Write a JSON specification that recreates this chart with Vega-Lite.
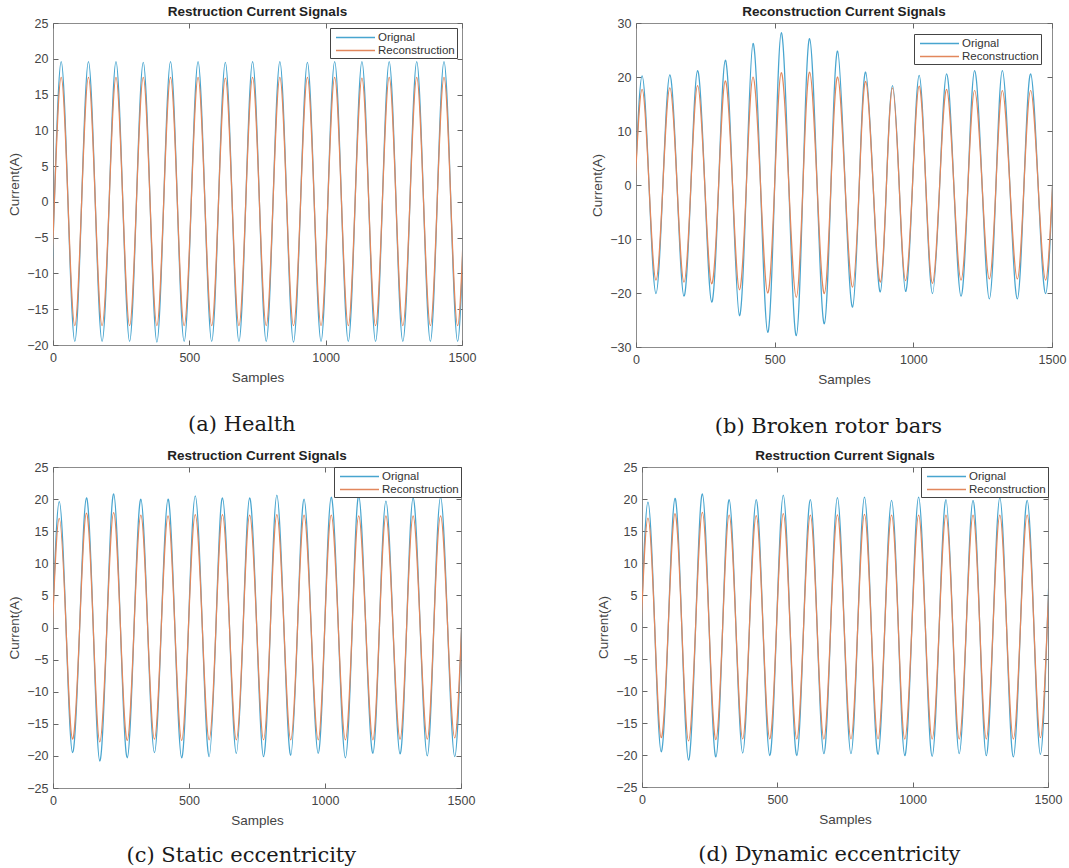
{
  "$schema": "https://vega.github.io/schema/vega-lite/v6.json",
  "background": "white",
  "padding": {"left": 7, "top": 4, "right": 2, "bottom": 2},
  "config": {
    "view": {"stroke": "#8c8c8c", "strokeWidth": 1},
    "axis": {"grid": false, "domain": false, "tickColor": "#666", "tickSize": -5, "tickWidth": 1, "labelFont": "Liberation Sans", "labelFontSize": 12.5, "labelColor": "#444", "labelPadding": 11, "labelFlush": false, "labelOverlap": false, "labelBound": false, "format": "d", "titleFont": "Liberation Sans", "titleFontSize": 13.5, "titleFontWeight": "normal", "titleColor": "#444", "titlePadding": 7},
    "axisY": {"labelPadding": 10, "titlePadding": 5},
    "legend": {"orient": "top-right", "offset": 5, "title": null, "strokeColor": "#444", "fillColor": "white", "padding": 2, "symbolType": "M-3,0H3", "symbolSize": 169, "symbolOffset": 16, "symbolStrokeWidth": 1.3, "labelFont": "Liberation Sans", "labelFontSize": 11.5, "labelColor": "#333", "rowPadding": 0, "labelOffset": 15, "cornerRadius": 0}
  },
  "resolve": {"scale": {"color": "independent"}, "legend": {"color": "independent"}},
  "datasets": {
    "a": [
      {"x":-45,"Orignal":0,"Reconstruction":0},{"x":-20,"Orignal":-19.5,"Reconstruction":-17.3},{"x":5,"Orignal":0,"Reconstruction":0},
      {"x":30,"Orignal":19.6,"Reconstruction":17.4},{"x":55,"Orignal":0,"Reconstruction":0},{"x":80,"Orignal":-19.5,"Reconstruction":-17.3},{"x":105,"Orignal":0,"Reconstruction":0},
      {"x":130,"Orignal":19.6,"Reconstruction":17.4},{"x":155,"Orignal":0,"Reconstruction":0},{"x":180,"Orignal":-19.5,"Reconstruction":-17.3},{"x":206,"Orignal":0,"Reconstruction":0},
      {"x":231,"Orignal":19.6,"Reconstruction":17.4},{"x":256,"Orignal":0,"Reconstruction":0},{"x":281,"Orignal":-19.5,"Reconstruction":-17.3},{"x":306,"Orignal":0,"Reconstruction":0},
      {"x":331,"Orignal":19.5,"Reconstruction":17.4},{"x":356,"Orignal":0,"Reconstruction":0},{"x":381,"Orignal":-19.6,"Reconstruction":-17.3},{"x":406,"Orignal":0,"Reconstruction":0},
      {"x":431,"Orignal":19.6,"Reconstruction":17.4},{"x":456,"Orignal":0,"Reconstruction":0},{"x":481,"Orignal":-19.5,"Reconstruction":-17.3},{"x":507,"Orignal":0,"Reconstruction":0},
      {"x":532,"Orignal":19.6,"Reconstruction":17.4},{"x":557,"Orignal":0,"Reconstruction":0},{"x":582,"Orignal":-19.5,"Reconstruction":-17.3},{"x":607,"Orignal":0,"Reconstruction":0},
      {"x":632,"Orignal":19.5,"Reconstruction":17.3},{"x":657,"Orignal":0,"Reconstruction":0},{"x":682,"Orignal":-19.5,"Reconstruction":-17.3},{"x":707,"Orignal":0,"Reconstruction":0},
      {"x":732,"Orignal":19.6,"Reconstruction":17.4},{"x":757,"Orignal":0,"Reconstruction":0},{"x":782,"Orignal":-19.5,"Reconstruction":-17.3},{"x":807,"Orignal":0,"Reconstruction":0},
      {"x":832,"Orignal":19.6,"Reconstruction":17.4},{"x":857,"Orignal":0,"Reconstruction":0},{"x":882,"Orignal":-19.6,"Reconstruction":-17.3},{"x":908,"Orignal":0,"Reconstruction":0},
      {"x":933,"Orignal":19.5,"Reconstruction":17.4},{"x":958,"Orignal":0,"Reconstruction":0},{"x":983,"Orignal":-19.5,"Reconstruction":-17.3},{"x":1008,"Orignal":0,"Reconstruction":0},
      {"x":1033,"Orignal":19.6,"Reconstruction":17.4},{"x":1058,"Orignal":0,"Reconstruction":0},{"x":1083,"Orignal":-19.5,"Reconstruction":-17.3},{"x":1108,"Orignal":0,"Reconstruction":0},
      {"x":1133,"Orignal":19.6,"Reconstruction":17.3},{"x":1158,"Orignal":0,"Reconstruction":0},{"x":1183,"Orignal":-19.5,"Reconstruction":-17.3},{"x":1208,"Orignal":0,"Reconstruction":0},
      {"x":1233,"Orignal":19.6,"Reconstruction":17.4},{"x":1258,"Orignal":0,"Reconstruction":0},{"x":1283,"Orignal":-19.5,"Reconstruction":-17.3},{"x":1309,"Orignal":0,"Reconstruction":0},
      {"x":1334,"Orignal":19.6,"Reconstruction":17.4},{"x":1359,"Orignal":0,"Reconstruction":0},{"x":1384,"Orignal":-19.5,"Reconstruction":-17.3},{"x":1409,"Orignal":0,"Reconstruction":0},
      {"x":1434,"Orignal":19.6,"Reconstruction":17.4},{"x":1459,"Orignal":0,"Reconstruction":0},{"x":1484,"Orignal":-19.5,"Reconstruction":-17.3},{"x":1509,"Orignal":0,"Reconstruction":0}
    ],
    "b": [
      {"x":-53,"Orignal":0,"Reconstruction":0},{"x":-28,"Orignal":-20.0,"Reconstruction":-17.5},{"x":-3,"Orignal":0,"Reconstruction":0},
      {"x":22,"Orignal":20.2,"Reconstruction":17.7},{"x":47,"Orignal":0,"Reconstruction":0},{"x":72,"Orignal":-20.1,"Reconstruction":-17.6},{"x":97,"Orignal":0,"Reconstruction":0},
      {"x":122,"Orignal":20.4,"Reconstruction":18.0},{"x":148,"Orignal":0,"Reconstruction":0},{"x":173,"Orignal":-20.6,"Reconstruction":-18.0},{"x":198,"Orignal":0,"Reconstruction":0},
      {"x":222,"Orignal":21.2,"Reconstruction":18.4},{"x":248,"Orignal":0,"Reconstruction":0},{"x":273,"Orignal":-21.7,"Reconstruction":-18.3},{"x":298,"Orignal":0,"Reconstruction":0},
      {"x":322,"Orignal":23.1,"Reconstruction":19.3},{"x":348,"Orignal":0,"Reconstruction":0},{"x":373,"Orignal":-24.2,"Reconstruction":-19.4},{"x":398,"Orignal":0,"Reconstruction":0},
      {"x":422,"Orignal":26.2,"Reconstruction":20.0},{"x":449,"Orignal":0,"Reconstruction":0},{"x":475,"Orignal":-27.3,"Reconstruction":-20.0},{"x":500,"Orignal":0,"Reconstruction":0},
      {"x":524,"Orignal":28.2,"Reconstruction":20.8},{"x":551,"Orignal":0,"Reconstruction":0},{"x":578,"Orignal":-27.9,"Reconstruction":-20.8},{"x":602,"Orignal":0,"Reconstruction":0},
      {"x":626,"Orignal":27.1,"Reconstruction":20.9},{"x":653,"Orignal":0,"Reconstruction":0},{"x":679,"Orignal":-25.7,"Reconstruction":-20.1},{"x":703,"Orignal":0,"Reconstruction":0},
      {"x":727,"Orignal":24.8,"Reconstruction":20.0},{"x":754,"Orignal":0,"Reconstruction":0},{"x":781,"Orignal":-22.6,"Reconstruction":-18.9},{"x":805,"Orignal":0,"Reconstruction":0},
      {"x":828,"Orignal":20.9,"Reconstruction":19.2},{"x":855,"Orignal":0,"Reconstruction":0},{"x":881,"Orignal":-19.8,"Reconstruction":-18.0},{"x":903,"Orignal":0,"Reconstruction":0},
      {"x":925,"Orignal":18.4,"Reconstruction":18.0},{"x":949,"Orignal":0,"Reconstruction":0},{"x":972,"Orignal":-19.7,"Reconstruction":-17.7},{"x":997,"Orignal":0,"Reconstruction":0},
      {"x":1021,"Orignal":20.3,"Reconstruction":18.3},{"x":1045,"Orignal":0,"Reconstruction":0},{"x":1069,"Orignal":-20.1,"Reconstruction":-18.2},{"x":1095,"Orignal":0,"Reconstruction":0},
      {"x":1120,"Orignal":20.6,"Reconstruction":17.7},{"x":1146,"Orignal":0,"Reconstruction":0},{"x":1172,"Orignal":-20.6,"Reconstruction":-17.6},{"x":1197,"Orignal":0,"Reconstruction":0},
      {"x":1221,"Orignal":21.2,"Reconstruction":17.5},{"x":1248,"Orignal":0,"Reconstruction":0},{"x":1274,"Orignal":-21.1,"Reconstruction":-17.4},{"x":1298,"Orignal":0,"Reconstruction":0},
      {"x":1321,"Orignal":21.2,"Reconstruction":17.5},{"x":1348,"Orignal":0,"Reconstruction":0},{"x":1375,"Orignal":-21.1,"Reconstruction":-17.4},{"x":1399,"Orignal":0,"Reconstruction":0},
      {"x":1423,"Orignal":20.6,"Reconstruction":17.5},{"x":1450,"Orignal":0,"Reconstruction":0},{"x":1477,"Orignal":-20.1,"Reconstruction":-17.6},{"x":1502,"Orignal":0,"Reconstruction":0}
    ],
    "c": [
      {"x":-52,"Orignal":0,"Reconstruction":0},{"x":-27,"Orignal":-19.5,"Reconstruction":-17.4},{"x":-2,"Orignal":0,"Reconstruction":0},
      {"x":23,"Orignal":19.6,"Reconstruction":17.0},{"x":48,"Orignal":0,"Reconstruction":0},{"x":72,"Orignal":-19.5,"Reconstruction":-17.4},{"x":98,"Orignal":0,"Reconstruction":0},
      {"x":123,"Orignal":20.2,"Reconstruction":17.8},{"x":148,"Orignal":0,"Reconstruction":0},{"x":172,"Orignal":-20.8,"Reconstruction":-17.8},{"x":198,"Orignal":0,"Reconstruction":0},
      {"x":223,"Orignal":20.8,"Reconstruction":17.9},{"x":248,"Orignal":0,"Reconstruction":0},{"x":273,"Orignal":-20.3,"Reconstruction":-17.6},{"x":298,"Orignal":0,"Reconstruction":0},
      {"x":323,"Orignal":20.0,"Reconstruction":17.5},{"x":348,"Orignal":0,"Reconstruction":0},{"x":373,"Orignal":-19.5,"Reconstruction":-17.4},{"x":398,"Orignal":0,"Reconstruction":0},
      {"x":423,"Orignal":20.0,"Reconstruction":17.4},{"x":448,"Orignal":0,"Reconstruction":0},{"x":473,"Orignal":-20.3,"Reconstruction":-17.6},{"x":498,"Orignal":0,"Reconstruction":0},
      {"x":523,"Orignal":20.5,"Reconstruction":17.6},{"x":549,"Orignal":0,"Reconstruction":0},{"x":574,"Orignal":-20.1,"Reconstruction":-17.5},{"x":599,"Orignal":0,"Reconstruction":0},
      {"x":623,"Orignal":20.2,"Reconstruction":17.6},{"x":649,"Orignal":0,"Reconstruction":0},{"x":674,"Orignal":-19.6,"Reconstruction":-17.5},{"x":699,"Orignal":0,"Reconstruction":0},
      {"x":723,"Orignal":20.2,"Reconstruction":17.5},{"x":749,"Orignal":0,"Reconstruction":0},{"x":774,"Orignal":-20.1,"Reconstruction":-17.5},{"x":799,"Orignal":0,"Reconstruction":0},
      {"x":823,"Orignal":20.6,"Reconstruction":17.6},{"x":849,"Orignal":0,"Reconstruction":0},{"x":874,"Orignal":-19.9,"Reconstruction":-17.5},{"x":899,"Orignal":0,"Reconstruction":0},
      {"x":923,"Orignal":20.0,"Reconstruction":17.5},{"x":949,"Orignal":0,"Reconstruction":0},{"x":975,"Orignal":-19.6,"Reconstruction":-17.5},{"x":999,"Orignal":0,"Reconstruction":0},
      {"x":1023,"Orignal":20.3,"Reconstruction":17.5},{"x":1049,"Orignal":0,"Reconstruction":0},{"x":1075,"Orignal":-20.3,"Reconstruction":-17.5},{"x":1100,"Orignal":0,"Reconstruction":0},
      {"x":1124,"Orignal":20.5,"Reconstruction":17.4},{"x":1150,"Orignal":0,"Reconstruction":0},{"x":1176,"Orignal":-19.6,"Reconstruction":-17.5},{"x":1200,"Orignal":0,"Reconstruction":0},
      {"x":1224,"Orignal":19.7,"Reconstruction":17.4},{"x":1250,"Orignal":0,"Reconstruction":0},{"x":1276,"Orignal":-19.7,"Reconstruction":-17.4},{"x":1300,"Orignal":0,"Reconstruction":0},
      {"x":1324,"Orignal":20.2,"Reconstruction":17.4},{"x":1350,"Orignal":0,"Reconstruction":0},{"x":1376,"Orignal":-20.0,"Reconstruction":-17.4},{"x":1400,"Orignal":0,"Reconstruction":0},
      {"x":1425,"Orignal":20.3,"Reconstruction":17.4},{"x":1451,"Orignal":0,"Reconstruction":0},{"x":1477,"Orignal":-20.1,"Reconstruction":-17.2},{"x":1502,"Orignal":0,"Reconstruction":0}
    ],
    "d": [
      {"x":-53,"Orignal":0,"Reconstruction":0},{"x":-28,"Orignal":-19.5,"Reconstruction":-17.3},{"x":-3,"Orignal":0,"Reconstruction":0},
      {"x":22,"Orignal":19.5,"Reconstruction":17.0},{"x":47,"Orignal":0,"Reconstruction":0},{"x":71,"Orignal":-19.5,"Reconstruction":-17.3},{"x":97,"Orignal":0,"Reconstruction":0},
      {"x":122,"Orignal":20.1,"Reconstruction":17.7},{"x":147,"Orignal":0,"Reconstruction":0},{"x":172,"Orignal":-20.8,"Reconstruction":-17.8},{"x":198,"Orignal":0,"Reconstruction":0},
      {"x":223,"Orignal":20.8,"Reconstruction":17.9},{"x":248,"Orignal":0,"Reconstruction":0},{"x":273,"Orignal":-20.3,"Reconstruction":-17.6},{"x":298,"Orignal":0,"Reconstruction":0},
      {"x":322,"Orignal":19.9,"Reconstruction":17.5},{"x":347,"Orignal":0,"Reconstruction":0},{"x":372,"Orignal":-19.7,"Reconstruction":-17.5},{"x":397,"Orignal":0,"Reconstruction":0},
      {"x":422,"Orignal":19.9,"Reconstruction":17.4},{"x":447,"Orignal":0,"Reconstruction":0},{"x":472,"Orignal":-20.1,"Reconstruction":-17.5},{"x":497,"Orignal":0,"Reconstruction":0},
      {"x":522,"Orignal":20.6,"Reconstruction":17.7},{"x":547,"Orignal":0,"Reconstruction":0},{"x":572,"Orignal":-20.1,"Reconstruction":-17.5},{"x":597,"Orignal":0,"Reconstruction":0},
      {"x":622,"Orignal":19.9,"Reconstruction":17.5},{"x":647,"Orignal":0,"Reconstruction":0},{"x":672,"Orignal":-19.8,"Reconstruction":-17.5},{"x":697,"Orignal":0,"Reconstruction":0},
      {"x":722,"Orignal":20.2,"Reconstruction":17.5},{"x":747,"Orignal":0,"Reconstruction":0},{"x":772,"Orignal":-19.8,"Reconstruction":-17.5},{"x":797,"Orignal":0,"Reconstruction":0},
      {"x":822,"Orignal":20.3,"Reconstruction":17.6},{"x":847,"Orignal":0,"Reconstruction":0},{"x":872,"Orignal":-19.9,"Reconstruction":-17.5},{"x":897,"Orignal":0,"Reconstruction":0},
      {"x":922,"Orignal":19.8,"Reconstruction":17.5},{"x":947,"Orignal":0,"Reconstruction":0},{"x":971,"Orignal":-20.1,"Reconstruction":-17.5},{"x":997,"Orignal":0,"Reconstruction":0},
      {"x":1022,"Orignal":20.3,"Reconstruction":17.5},{"x":1047,"Orignal":0,"Reconstruction":0},{"x":1072,"Orignal":-20.2,"Reconstruction":-17.5},{"x":1098,"Orignal":0,"Reconstruction":0},
      {"x":1123,"Orignal":19.9,"Reconstruction":17.5},{"x":1148,"Orignal":0,"Reconstruction":0},{"x":1172,"Orignal":-19.8,"Reconstruction":-17.5},{"x":1198,"Orignal":0,"Reconstruction":0},
      {"x":1223,"Orignal":19.8,"Reconstruction":17.5},{"x":1248,"Orignal":0,"Reconstruction":0},{"x":1272,"Orignal":-20.1,"Reconstruction":-17.5},{"x":1297,"Orignal":0,"Reconstruction":0},
      {"x":1322,"Orignal":20.2,"Reconstruction":17.5},{"x":1347,"Orignal":0,"Reconstruction":0},{"x":1372,"Orignal":-20.3,"Reconstruction":-17.5},{"x":1398,"Orignal":0,"Reconstruction":0},
      {"x":1423,"Orignal":19.8,"Reconstruction":17.5},{"x":1448,"Orignal":0,"Reconstruction":0},{"x":1472,"Orignal":-19.9,"Reconstruction":-17.3},{"x":1497,"Orignal":0,"Reconstruction":0},
      {"x":1522,"Orignal":19.8,"Reconstruction":17.5},{"x":1547,"Orignal":0,"Reconstruction":0}
    ]
  },
  "spacing": 11,
  "vconcat": [
    {
      "spacing": 113,
      "resolve": {"scale": {"color": "independent"}, "legend": {"color": "independent"}},
      "hconcat": [
        {
          "title": {"text": "(a) Health", "orient": "bottom", "font": "DejaVu Serif", "fontSize": 21, "fontWeight": "normal", "color": "#1a1a1a", "offset": 29, "anchor": "middle"},
          "resolve": {"scale": {"color": "independent"}, "legend": {"color": "independent"}},
          "vconcat": [{
            "width": 409, "height": 322,
            "title": {"text": "Restruction Current Signals", "font": "Liberation Sans", "fontSize": 13.5, "fontWeight": "bold", "color": "#222", "offset": -1, "anchor": "middle", "frame": "group"},
            "data": {"name": "a"},
            "transform": [{"fold": ["Orignal", "Reconstruction"], "as": ["series", "value"]}],
            "resolve": {"axis": {"x": "independent", "y": "independent"}},
            "layer": [
              {
                "mark": {"type": "line", "interpolate": "natural", "clip": true, "strokeWidth": 1.25},
                "encoding": {
                  "x": {"field": "x", "type": "quantitative", "scale": {"domain": [0, 1500], "nice": false, "zero": false}, "axis": {"values": [0, 500, 1000, 1500], "title": "Samples"}},
                  "y": {"field": "value", "type": "quantitative", "scale": {"domain": [-20, 25], "nice": false}, "axis": {"values": [-20, -15, -10, -5, 0, 5, 10, 15, 20, 25], "title": "Current(A)"}},
                  "color": {"field": "series", "type": "nominal", "scale": {"domain": ["Orignal", "Reconstruction"], "range": ["#48a5cf", "#e2875c"]}}
                }
              },
              {
                "mark": {"type": "point", "opacity": 0, "clip": true},
                "encoding": {
                  "x": {"field": "x", "type": "quantitative", "axis": {"orient": "top", "values": [0, 500, 1000, 1500], "labels": false, "title": null}},
                  "y": {"field": "value", "type": "quantitative", "axis": {"orient": "right", "values": [-20, -15, -10, -5, 0, 5, 10, 15, 20, 25], "labels": false, "title": null}}
                }
              }
            ]
          }]
        },
        {
          "title": {"text": "(b)  Broken rotor bars", "orient": "bottom", "font": "DejaVu Serif", "fontSize": 21, "fontWeight": "normal", "color": "#1a1a1a", "offset": 29, "anchor": "middle"},
          "resolve": {"scale": {"color": "independent"}, "legend": {"color": "independent"}},
          "vconcat": [{
            "width": 416, "height": 324,
            "title": {"text": "Reconstruction Current Signals", "font": "Liberation Sans", "fontSize": 13.5, "fontWeight": "bold", "color": "#222", "offset": -1, "anchor": "middle", "frame": "group"},
            "data": {"name": "b"},
            "transform": [{"fold": ["Orignal", "Reconstruction"], "as": ["series", "value"]}],
            "resolve": {"axis": {"x": "independent", "y": "independent"}},
            "layer": [
              {
                "mark": {"type": "line", "interpolate": "natural", "clip": true, "strokeWidth": 1.25},
                "encoding": {
                  "x": {"field": "x", "type": "quantitative", "scale": {"domain": [0, 1500], "nice": false, "zero": false}, "axis": {"values": [0, 500, 1000, 1500], "title": "Samples"}},
                  "y": {"field": "value", "type": "quantitative", "scale": {"domain": [-30, 30], "nice": false}, "axis": {"values": [-30, -20, -10, 0, 10, 20, 30], "title": "Current(A)"}},
                  "color": {"field": "series", "type": "nominal", "scale": {"domain": ["Orignal", "Reconstruction"], "range": ["#48a5cf", "#e2875c"]}, "legend": {"offset": 11}}
                }
              },
              {
                "mark": {"type": "point", "opacity": 0, "clip": true},
                "encoding": {
                  "x": {"field": "x", "type": "quantitative", "axis": {"orient": "top", "values": [0, 500, 1000, 1500], "labels": false, "title": null}},
                  "y": {"field": "value", "type": "quantitative", "axis": {"orient": "right", "values": [-30, -20, -10, 0, 10, 20, 30], "labels": false, "title": null}}
                }
              }
            ]
          }]
        }
      ]
    },
    {
      "spacing": 120,
      "resolve": {"scale": {"color": "independent"}, "legend": {"color": "independent"}},
      "hconcat": [
        {
          "title": {"text": "(c) Static eccentricity", "orient": "bottom", "font": "DejaVu Serif", "fontSize": 21, "fontWeight": "normal", "color": "#1a1a1a", "offset": 17, "anchor": "middle"},
          "resolve": {"scale": {"color": "independent"}, "legend": {"color": "independent"}},
          "vconcat": [{
            "width": 408, "height": 321,
            "title": {"text": "Restruction Current Signals", "font": "Liberation Sans", "fontSize": 13.5, "fontWeight": "bold", "color": "#222", "offset": -1, "anchor": "middle", "frame": "group"},
            "data": {"name": "c"},
            "transform": [{"fold": ["Orignal", "Reconstruction"], "as": ["series", "value"]}],
            "resolve": {"axis": {"x": "independent", "y": "independent"}},
            "layer": [
              {
                "mark": {"type": "line", "interpolate": "natural", "clip": true, "strokeWidth": 1.25},
                "encoding": {
                  "x": {"field": "x", "type": "quantitative", "scale": {"domain": [0, 1500], "nice": false, "zero": false}, "axis": {"values": [0, 500, 1000, 1500], "title": "Samples"}},
                  "y": {"field": "value", "type": "quantitative", "scale": {"domain": [-25, 25], "nice": false}, "axis": {"values": [-25, -20, -15, -10, -5, 0, 5, 10, 15, 20, 25], "title": "Current(A)"}},
                  "color": {"field": "series", "type": "nominal", "scale": {"domain": ["Orignal", "Reconstruction"], "range": ["#48a5cf", "#e2875c"]}, "legend": {"offset": 0}}
                }
              },
              {
                "mark": {"type": "point", "opacity": 0, "clip": true},
                "encoding": {
                  "x": {"field": "x", "type": "quantitative", "axis": {"orient": "top", "values": [0, 500, 1000, 1500], "labels": false, "title": null}},
                  "y": {"field": "value", "type": "quantitative", "axis": {"orient": "right", "values": [-25, -20, -15, -10, -5, 0, 5, 10, 15, 20, 25], "labels": false, "title": null}}
                }
              }
            ]
          }]
        },
        {
          "title": {"text": "(d) Dynamic eccentricity", "orient": "bottom", "font": "DejaVu Serif", "fontSize": 21, "fontWeight": "normal", "color": "#1a1a1a", "offset": 17, "anchor": "middle"},
          "resolve": {"scale": {"color": "independent"}, "legend": {"color": "independent"}},
          "vconcat": [{
            "width": 406, "height": 320,
            "title": {"text": "Restruction Current Signals", "font": "Liberation Sans", "fontSize": 13.5, "fontWeight": "bold", "color": "#222", "offset": -1, "anchor": "middle", "frame": "group"},
            "data": {"name": "d"},
            "transform": [{"fold": ["Orignal", "Reconstruction"], "as": ["series", "value"]}],
            "resolve": {"axis": {"x": "independent", "y": "independent"}},
            "layer": [
              {
                "mark": {"type": "line", "interpolate": "natural", "clip": true, "strokeWidth": 1.25},
                "encoding": {
                  "x": {"field": "x", "type": "quantitative", "scale": {"domain": [0, 1500], "nice": false, "zero": false}, "axis": {"values": [0, 500, 1000, 1500], "title": "Samples"}},
                  "y": {"field": "value", "type": "quantitative", "scale": {"domain": [-25, 25], "nice": false}, "axis": {"values": [-25, -20, -15, -10, -5, 0, 5, 10, 15, 20, 25], "title": "Current(A)"}},
                  "color": {"field": "series", "type": "nominal", "scale": {"domain": ["Orignal", "Reconstruction"], "range": ["#48a5cf", "#e2875c"]}, "legend": {"offset": 0}}
                }
              },
              {
                "mark": {"type": "point", "opacity": 0, "clip": true},
                "encoding": {
                  "x": {"field": "x", "type": "quantitative", "axis": {"orient": "top", "values": [0, 500, 1000, 1500], "labels": false, "title": null}},
                  "y": {"field": "value", "type": "quantitative", "axis": {"orient": "right", "values": [-25, -20, -15, -10, -5, 0, 5, 10, 15, 20, 25], "labels": false, "title": null}}
                }
              }
            ]
          }]
        }
      ]
    }
  ]
}
